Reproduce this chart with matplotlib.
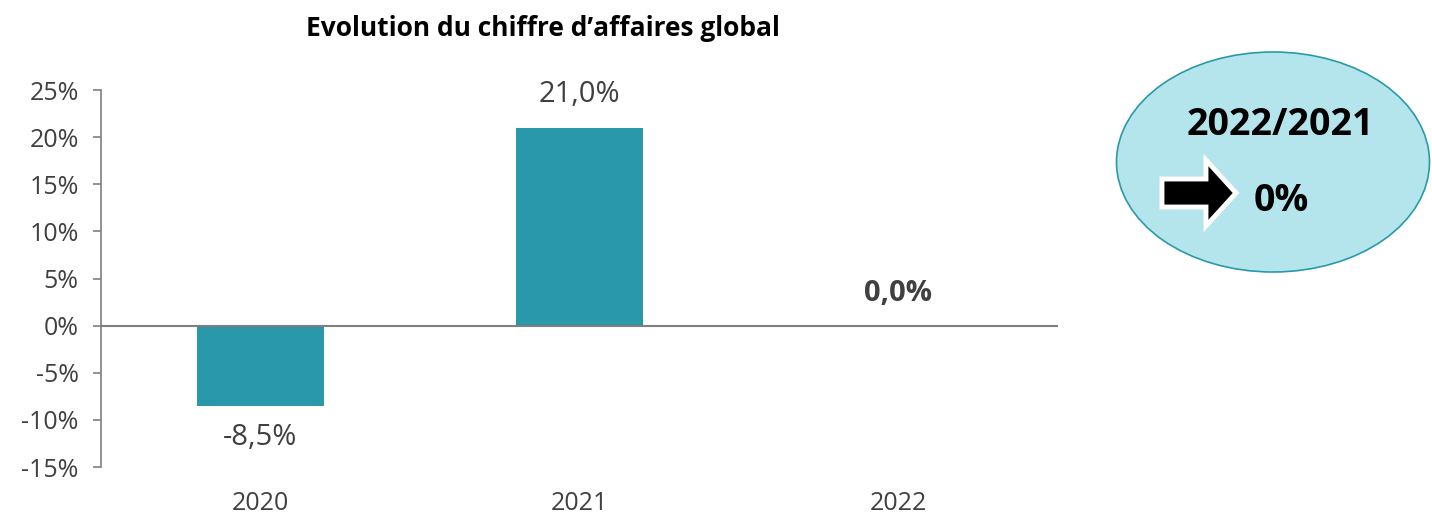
import matplotlib
matplotlib.use("Agg")
import matplotlib.pyplot as plt
from matplotlib.patches import Ellipse, FancyArrow

years = ["2020", "2021", "2022"]
values = [-8.5, 21.0, 0.0]
labels = ["-8,5%", "21,0%", "0,0%"]
yticks = [-15, -10, -5, 0, 5, 10, 15, 20, 25]
title = "Evolution du chiffre d\u2019affaires global"
badge_title = "2022/2021"
badge_value = "0%"

plt.rcParams['font.family'] = ['Open Sans', 'DejaVu Sans']
txt = "#404040"
bar_color = "#2998aa"

fig = plt.figure(figsize=(14.32, 5.17), dpi=100)
ax = fig.add_axes([0.0705, 0.0967, 0.6683, 0.7292])
x = list(range(len(years)))
ax.bar(x, values, width=0.4, color=bar_color, zorder=2)
ax.set_xlim(-0.5, 2.5)
ax.set_ylim(-15, 25)
ax.set_yticks(yticks)
ax.set_yticklabels([f"{t}%" for t in yticks], fontsize=18, color=txt)
ax.set_xticks(x)
ax.set_xticklabels(years, fontsize=18, color=txt)
ax.tick_params(axis='x', length=0, pad=17)
ax.tick_params(axis='y', length=6, width=1.2, color="#7f7f7f", pad=10)
for s in ["top", "right", "bottom"]:
    ax.spines[s].set_visible(False)
ax.spines["left"].set_color("#7f7f7f")
ax.spines["left"].set_linewidth(1.2)
ax.axhline(0, color="#7f7f7f", lw=1.5, zorder=3)

for xi, v, lab in zip(x, values, labels):
    if v > 0:
        ax.text(xi, v + 3.5, lab, ha='center', va='center', fontsize=21, color=txt)
    elif v < 0:
        ax.text(xi, v - 3.4, lab, ha='center', va='center', fontsize=21, color=txt)
    else:
        ax.text(xi, 3.4, lab, ha='center', va='center', fontsize=21, color=txt, fontweight='bold')

fig.text(543/1432, 1 - 28/517, title, ha='center', va='center', fontsize=19, fontweight='bold', color='black')

# badge
bax = fig.add_axes([0, 0, 1, 1])
bax.set_xlim(0, 1432)
bax.set_ylim(517, 0)
bax.axis('off')
bax.add_patch(Ellipse((1273, 162), 313, 220, facecolor="#b4e5ec", edgecolor="#2a9aa8", lw=1.2))
bax.text(1280, 125, badge_title, ha='center', va='center', fontsize=27, fontweight='bold', color='black')
bax.text(1281, 201, badge_value, ha='center', va='center', fontsize=27, fontweight='bold', color='black')
bax.add_patch(FancyArrow(1162, 193, 44, 0, width=28, head_width=66, head_length=30,
                         length_includes_head=False, facecolor='black', edgecolor='white', lw=3.5))

fig.savefig("out.png", dpi=100)
